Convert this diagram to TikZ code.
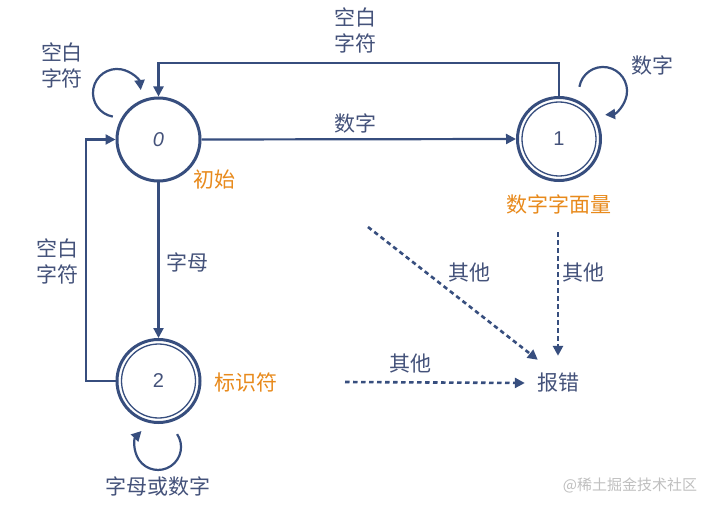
\documentclass[tikz,border=0pt]{standalone}
\usepackage{fontspec}
\setmainfont{Noto Sans CJK SC}
\newfontfamily\digfont{Liberation Sans}
\usetikzlibrary{arrows.meta}
\definecolor{ln}{RGB}{55,78,126}
\definecolor{tx}{RGB}{68,82,122}
\definecolor{og}{RGB}{232,138,28}
\begin{document}
\begin{tikzpicture}[x=1pt,y=-1pt,
  state/.style={circle,draw=ln,line width=3pt,minimum size=83pt,inner sep=0pt,
    font=\digfont\fontsize{20}{22}\selectfont,text=tx},
  inner/.style={draw=ln,line width=1.3pt},
  conn/.style={draw=ln,line width=2.2pt,-{Triangle[length=10pt,width=10pt]}},
  dconn/.style={conn,dash pattern=on 4.5pt off 3.5pt,line width=2.6pt},
  lbl/.style={text=tx,font=\fontsize{21}{26}\selectfont,align=center,inner sep=0pt},
  olbl/.style={lbl,text=og},
  wm/.style={text=black!25,font=\fontsize{15}{16}\selectfont,inner sep=0pt},
]
\useasboundingbox[fill=white] (0,0) rectangle (710,508);

% states
\node[state] (s0) at (158.5,139.5) {\itshape 0};
\node[state] (s1) at (559,139) {1};
\node[state] (s2) at (158.5,381) {2};
\draw[inner] (s1.center) circle[radius=37];
\draw[inner] (s2.center) circle[radius=37];

% state labels
\node[olbl] (l0) at (214,180) {初始};
\node[olbl] (l1) at (559,204) {数字字面量};
\node[olbl] (l2) at (246,382) {标识符};

% error node
\node[lbl,minimum width=66pt,minimum height=54pt] (err) at (558,383) {报错};

% helper coordinates
\coordinate (tl) at (158.5,63);
\coordinate (lc) at (86,260);
\coordinate (d1) at (368,227);
\coordinate (d2) at (558,232);
\coordinate (d3) at (345,382);

% transitions
\draw[conn] (s0.east) -- (s1.west);
\node[lbl] (t01) at (355,123) {数字};

\draw[conn] (s1.north) |- (tl) -- (s0.north);
\node[lbl] (t10) at (355,30) {空白\\字符};

\draw[conn] (s0.south) -- (s2.north);
\node[lbl] (t02) at (187,262) {字母};

\draw[conn] (s2.west) -| (lc) |- (s0.west);
\node[lbl] (t20) at (57,261) {空白\\字符};

% self loops
\draw[conn] (112.8,116.6) arc[start angle=100,end angle=353,radius=24];
\node[lbl] (t00) at (62,65) {空白\\字符};

\draw[conn] (579.4,86.8) arc[start angle=190,end angle=445,radius=24];
\node[lbl] (t11) at (652,65) {数字};

\draw[conn] (177.1,434.1) arc[start angle=326,end angle=584,radius=23];
\node[lbl] (t22) at (158,486) {字母或数字};

% error transitions
\draw[dconn] (d1) -- ([xshift=13pt,yshift=-4pt]err.north west);
\node[lbl] (e1) at (469,273) {其他};
\draw[dconn] (d2) -- (err.north);
\node[lbl] (e2) at (583,273) {其他};
\draw[dconn] (d3) -- (err.west);
\node[lbl] (e3) at (410,364) {其他};

% watermark
\node[wm] (w) at (630,485) {@稀土掘金技术社区};
\end{tikzpicture}
\end{document}
